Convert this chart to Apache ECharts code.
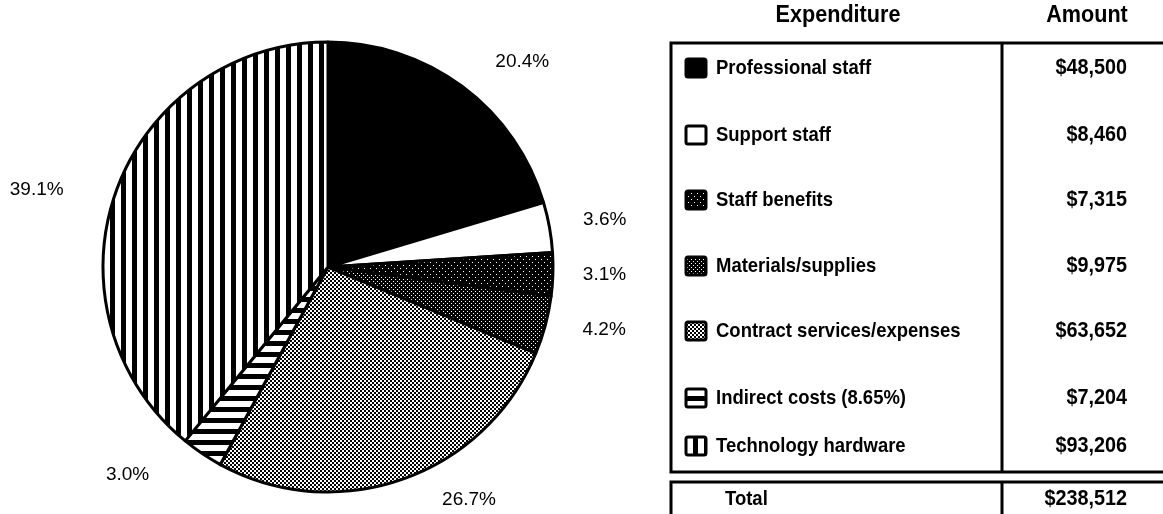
<!DOCTYPE html>
<html>
<head>
<meta charset="utf-8">
<script src="https://cdn.jsdelivr.net/npm/echarts@6/dist/echarts.min.js"></script>
<style>
  html, body { margin: 0; padding: 0; background: #fff; }
  #chart { width: 1163px; height: 514px; }
</style>
</head>
<body>
<div id="chart"></div>
<script>
// Budget breakdown: expenditure categories, their share of the total and dollar amounts
const categories = [
  'Professional staff',
  'Support staff',
  'Staff benefits',
  'Materials/supplies',
  'Contract services/expenses',
  'Indirect costs (8.65%)',
  'Technology hardware'
];
const percentShares = [20.4, 3.6, 3.1, 4.2, 26.7, 3.0, 39.1];
const amounts = [48500, 8460, 7315, 9975, 63652, 7204, 93206];
const totalAmount = 238512;
const tableHeaders = ['Expenditure', 'Amount'];
const totalLabel = 'Total';

// ---- fill patterns (monochrome print style) ----
function tile(w, h, paint) {
  const c = document.createElement('canvas');
  c.width = w; c.height = h;
  const g = c.getContext('2d');
  paint(g, w, h);
  return { image: c, repeat: 'repeat' };
}
const fills = [
  '#000',
  '#fff',
  tile(6, 6, (g) => { g.fillStyle = '#000'; g.fillRect(0, 0, 6, 6); g.fillStyle = '#fff'; g.fillRect(1, 1, 1, 1); g.fillRect(4, 4, 1, 1); }),
  tile(4, 4, (g) => { g.fillStyle = '#000'; g.fillRect(0, 0, 4, 4); g.fillStyle = '#fff'; g.fillRect(1, 1, 1, 1); g.fillRect(3, 3, 1, 1); }),
  tile(4, 4, (g) => { g.fillStyle = '#000'; g.fillRect(0, 0, 4, 4); g.fillStyle = '#fff'; g.fillRect(0, 0, 2, 2); g.fillRect(2, 2, 2, 2); }),
  tile(4, 11, (g) => { g.fillStyle = '#fff'; g.fillRect(0, 0, 4, 11); g.fillStyle = '#000'; g.fillRect(0, 0, 4, 5); }),
  tile(11, 4, (g) => { g.fillStyle = '#fff'; g.fillRect(0, 0, 11, 4); g.fillStyle = '#000'; g.fillRect(0, 0, 5, 4); })
];

// small hand offsets for the outside percentage labels (dx, dy)
const labelNudge = [[9, -5], [0, -3], [-4, 0], [4, -2], [22, -3], [-30, 0], [-20, 7]];

// ---- table layout ----
const T = {
  left: 671, right: 1180, top: 43, bottom: 472,
  divider: 1002, totalTop: 482, totalBottom: 518,
  rowY: [68, 135, 200, 266, 331, 398, 446],
  swatchX: 686, swatchW: 20, swatchH: 18,
  textX: 716, amountRight: 1127,
  headerY: 15, expenditureX: 838, amountX: 1087,
  totalX: 725, totalY: 499
};
const SANS = "'Liberation Sans', Arial, sans-serif";
// condensed bold look: larger type squeezed horizontally
const labelFont = { font: { fontFamily: SANS, fontWeight: 'bold', fontSize: 21 }, squeeze: 0.88 };
const amountFont = { font: { fontFamily: SANS, fontWeight: 'bold', fontSize: 22 }, squeeze: 0.9 };
const headerFont = { font: { fontFamily: SANS, fontWeight: 'bold', fontSize: 24 }, squeeze: 0.9 };
const money = (v) => '$' + v.toLocaleString('en-US');

function textEl(str, x, y, align, f) {
  return {
    type: 'text', x: x, y: y, scaleX: f.squeeze,
    style: Object.assign({ text: str, fill: '#000', align: align, verticalAlign: 'middle' }, f.font)
  };
}

const graphics = [];
// header
graphics.push(textEl(tableHeaders[0], T.expenditureX, T.headerY, 'center', headerFont));
graphics.push(textEl(tableHeaders[1], T.amountX, T.headerY, 'center', headerFont));
// main box and column divider
graphics.push({ type: 'rect', shape: { x: T.left, y: T.top, width: T.right - T.left, height: T.bottom - T.top }, style: { fill: 'none', stroke: '#000', lineWidth: 3 } });
graphics.push({ type: 'line', shape: { x1: T.divider, y1: T.top, x2: T.divider, y2: T.bottom }, style: { stroke: '#000', lineWidth: 3 } });
// total box
graphics.push({ type: 'rect', shape: { x: T.left, y: T.totalTop, width: T.right - T.left, height: T.totalBottom - T.totalTop }, style: { fill: 'none', stroke: '#000', lineWidth: 3 } });
graphics.push({ type: 'line', shape: { x1: T.divider, y1: T.totalTop, x2: T.divider, y2: T.totalBottom }, style: { stroke: '#000', lineWidth: 3 } });
graphics.push(textEl(totalLabel, T.totalX, T.totalY, 'left', labelFont));
graphics.push(textEl(money(totalAmount), T.amountRight, T.totalY, 'right', amountFont));
// rows
categories.forEach((name, i) => {
  const y = T.rowY[i];
  graphics.push({
    type: 'rect',
    shape: { x: T.swatchX, y: y - T.swatchH / 2, width: T.swatchW, height: T.swatchH, r: 2 },
    style: { fill: fills[i], stroke: '#000', lineWidth: 3 }
  });
  graphics.push(textEl(name, T.textX, y, 'left', labelFont));
  graphics.push(textEl(money(amounts[i]), T.amountRight, y, 'right', amountFont));
});

const chart = echarts.init(document.getElementById('chart'), null, { renderer: 'canvas' });
chart.setOption({
  backgroundColor: '#fff',
  animation: false,
  series: [{
    type: 'pie',
    center: [328, 267],
    radius: 225,
    startAngle: 90,
    clockwise: true,
    avoidLabelOverlap: false,
    silent: true,
    data: categories.map((name, i) => ({ name: name, value: percentShares[i], itemStyle: { color: fills[i] } })),
    itemStyle: { borderColor: '#000', borderWidth: 3 },
    label: {
      show: true,
      position: 'outside',
      formatter: (p) => p.value.toFixed(1) + '%',
      color: '#000',
      fontFamily: SANS,
      fontSize: 19
    },
    labelLine: { show: false, length: 25, length2: 4 },
    labelLayout: (params) => ({ dx: labelNudge[params.dataIndex][0], dy: labelNudge[params.dataIndex][1] }),
    emphasis: { disabled: true }
  }],
  graphic: graphics
});
</script>
</body>
</html>
